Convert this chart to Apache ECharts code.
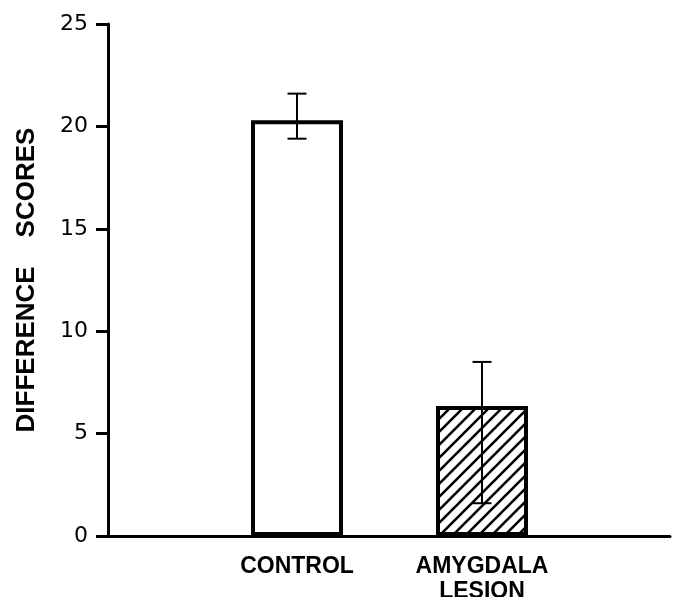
<!DOCTYPE html>
<html>
<head>
<meta charset="utf-8">
<script src="https://cdn.jsdelivr.net/npm/echarts@6/dist/echarts.min.js"></script>
<style>
html, body { margin: 0; padding: 0; background: #fff; }
#chartmain { width: 679px; height: 597px; }
</style>
</head>
<body>
<div id="chartmain"></div>
<script>
var groups = ['CONTROL', 'AMYGDALA\nLESION'];
var scores = [20.3, 6.35];
var errLow = [19.4, 1.6];
var errHigh = [21.6, 8.5];
var yTicks = [0, 5, 10, 15, 20, 25];

// diagonal hatch for the lesion bar
function hatch() {
	var s = 13;
	var c = document.createElement('canvas');
	c.width = s;
	c.height = s;
	var ctx = c.getContext('2d');
	ctx.fillStyle = '#fff';
	ctx.fillRect(0, 0, s, s);
	ctx.strokeStyle = '#000';
	ctx.lineWidth = 2.6;
	ctx.beginPath();
	ctx.moveTo(-2, s + 2); ctx.lineTo(s + 2, -2);
	ctx.moveTo(-2, 2); ctx.lineTo(2, -2);
	ctx.moveTo(s - 2, s + 2); ctx.lineTo(s + 2, s - 2);
	ctx.stroke();
	return c;
}

var barData = [];
for (var i = 0; i < groups.length; i++) {
	barData.push({
		value: scores[i],
		itemStyle: i == 0 ? { color: '#fff' } : { color: { image: hatch(), repeat: 'repeat' } }
	});
}
var errData = [];
for (var i = 0; i < groups.length; i++) {
	errData.push([i, errLow[i], errHigh[i]]);
}

function renderErr(params, api) {
	var hi = api.coord([api.value(0), api.value(2)]);
	var lo = api.coord([api.value(0), api.value(1)]);
	var w = 9.5;
	var st = { stroke: '#000', lineWidth: 2 };
	return {
		type: 'group',
		children: [
			{ type: 'line', shape: { x1: hi[0], y1: hi[1], x2: lo[0], y2: lo[1] }, style: st },
			{ type: 'line', shape: { x1: hi[0] - w, y1: hi[1], x2: hi[0] + w, y2: hi[1] }, style: st },
			{ type: 'line', shape: { x1: lo[0] - w, y1: lo[1], x2: lo[0] + w, y2: lo[1] }, style: st }
		]
	};
}

var option = {
	backgroundColor: '#fff',
	animation: false,
	grid: [
		{ left: 108, right: 9, top: 24, bottom: 61, outerBoundsMode: 'none', containLabel: false },
		{ left: 204.5, width: 370, top: 24, bottom: 61, outerBoundsMode: 'none', containLabel: false }
	],
	xAxis: [
		{
			gridIndex: 0, type: 'value', min: 0, max: 1,
			axisLine: { show: true, lineStyle: { color: '#000', width: 3 } },
			axisTick: { show: false }, axisLabel: { show: false }, splitLine: { show: false }
		},
		{
			gridIndex: 1, type: 'category', data: groups,
			axisLine: { show: false }, axisTick: { show: false },
			axisLabel: {
				margin: 18, color: '#000', fontFamily: 'Liberation Sans', fontWeight: 'bold',
				fontSize: 23, lineHeight: 25
			}
		}
	],
	yAxis: [
		{
			gridIndex: 0, type: 'value', min: yTicks[0], max: yTicks[yTicks.length - 1], interval: 5,
			name: 'DIFFERENCE    SCORES', nameLocation: 'middle', nameGap: 68, nameRotate: 90,
			nameTextStyle: { color: '#000', fontFamily: 'Liberation Sans', fontWeight: 'bold', fontSize: 26 },
			axisLine: { show: true, lineStyle: { color: '#000', width: 3 } },
			axisTick: { show: true, length: 12, lineStyle: { color: '#000', width: 3 } },
			axisLabel: { margin: 20, color: '#000', fontFamily: 'DejaVu Sans', fontSize: 22 },
			splitLine: { show: false }
		},
		{ gridIndex: 1, type: 'value', min: 0, max: 25, show: false }
	],
	series: [
		{
			type: 'bar', xAxisIndex: 1, yAxisIndex: 1, barWidth: 92,
			data: barData,
			itemStyle: { borderColor: '#000', borderWidth: 4 }
		},
		{
			type: 'custom', xAxisIndex: 1, yAxisIndex: 1, renderItem: renderErr,
			data: errData, z: 5
		}
	]
};
var myChart = echarts.init(document.getElementById('chartmain'));
myChart.setOption(option);
</script>
</body>
</html>
